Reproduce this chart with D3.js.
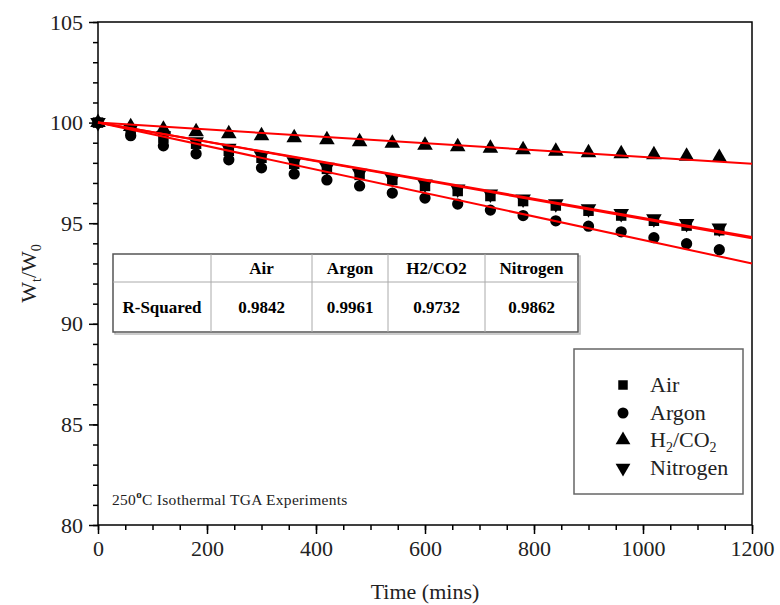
<!DOCTYPE html>
<html>
<head>
<meta charset="utf-8">
<script src="https://cdn.jsdelivr.net/npm/d3@7"></script>
<style>
  body { margin: 0; background: #fff; }
  svg text { font-family: "Liberation Serif", "Times New Roman", serif; }
</style>
</head>
<body>
<div id="container"></div>
<script>
/* data */
var times = [0, 60, 120, 180, 240, 300, 360, 420, 480, 540, 600, 660, 720, 780, 840, 900, 960, 1020, 1080, 1140];
var air = [100, 99.6, 99.25, 98.95, 98.6, 98.25, 97.95, 97.7, 97.4, 97.15, 96.85, 96.6, 96.35, 96.1, 95.88, 95.62, 95.38, 95.12, 94.88, 94.65];
var argon = [100, 99.35, 98.85, 98.45, 98.15, 97.75, 97.45, 97.15, 96.85, 96.5, 96.25, 95.95, 95.65, 95.38, 95.12, 94.85, 94.57, 94.28, 93.98, 93.68];
var h2co2 = [100, 99.8, 99.67, 99.55, 99.45, 99.35, 99.25, 99.15, 99.05, 98.97, 98.88, 98.8, 98.72, 98.65, 98.58, 98.5, 98.45, 98.4, 98.33, 98.27];
var nitrogen = [100, 99.7, 99.35, 99.05, 98.72, 98.35, 98.05, 97.78, 97.48, 97.22, 96.95, 96.7, 96.45, 96.2, 95.97, 95.72, 95.48, 95.22, 94.98, 94.76];

var seriesNames = ["Air", "Argon", "H2/CO2", "Nitrogen"];
var fitTimes = [0, 1200];
var fitAir = [100, 94.25];
var fitArgon = [100, 93.0];
var fitH2co2 = [100, 97.95];
var fitNitrogen = [100, 94.32];
var rSquared = ["0.9842", "0.9961", "0.9732", "0.9862"];

var xTicks = [0, 200, 400, 600, 800, 1000, 1200];
var yTicks = [80, 85, 90, 95, 100, 105];

var serif = "'Liberation Serif', 'Times New Roman', serif";

/* dimensions */
var margin = { top: 22, bottom: 80, left: 98, right: 28 },
    width = 780 - margin.left - margin.right,
    height = 605 - margin.top - margin.bottom;

var svg = d3.select("#container")
            .append("svg")
            .attr("width", 780)
            .attr("height", 605)
            .style("font-family", serif)

var g = svg.append("g")
           .attr("transform", "translate(" + margin.left + "," + margin.top + ")")

var x = d3.scaleLinear().domain([0, 1200]).range([0, width])
var y = d3.scaleLinear().domain([80, 105]).range([height, 0])

/* minor ticks */
g.append("g")
  .attr("transform", "translate(0," + height + ")")
  .call(d3.axisBottom(x).tickValues(d3.range(0, 1201, 50)).tickSize(5).tickFormat(""))
g.append("g")
  .call(d3.axisLeft(y).tickValues(d3.range(80, 106, 1)).tickSize(5).tickFormat(""))

/* major ticks */
g.append("g")
  .attr("class", "x axis")
  .attr("transform", "translate(0," + height + ")")
  .call(d3.axisBottom(x).tickValues(xTicks).tickSize(9).tickPadding(6).tickFormat(d3.format("d")))
g.append("g")
  .attr("class", "y axis")
  .call(d3.axisLeft(y).tickValues(yTicks).tickSize(9).tickPadding(6).tickFormat(d3.format("d")))

g.selectAll(".domain").remove()
g.selectAll(".tick line").attr("stroke", "#000").attr("stroke-width", 1.5)
g.selectAll(".axis").attr("font-family", serif).attr("font-size", 22)
g.selectAll(".axis text").attr("fill", "#222")

/* frame */
g.append("rect")
  .attr("width", width)
  .attr("height", height)
  .attr("fill", "none")
  .attr("stroke", "#000")
  .attr("stroke-width", 1.5)

/* axis titles */
svg.append("text")
  .attr("x", margin.left + width / 2)
  .attr("y", 599)
  .attr("text-anchor", "middle")
  .style("font-size", "22px")
  .attr("fill", "#222")
  .text("Time (mins)")

var yl = svg.append("text")
  .attr("transform", "translate(36," + (margin.top + height / 2) + ") rotate(-90)")
  .attr("text-anchor", "middle")
  .style("font-size", "22px")
  .attr("fill", "#222")
yl.append("tspan").text("W")
yl.append("tspan").attr("dy", 5).style("font-size", "14px").text("t")
yl.append("tspan").attr("dy", -5).text("/W")
yl.append("tspan").attr("dy", 5).style("font-size", "14px").text("0")

/* markers */
var sym = {
  "Air": d3.symbol().type(d3.symbolSquare).size(110),
  "Argon": d3.symbol().type(d3.symbolCircle).size(100),
  "H2/CO2": d3.symbol().type(d3.symbolTriangle).size(105),
  "Nitrogen": d3.symbol().type(d3.symbolTriangle).size(105)
}
var rot = { "Air": 0, "Argon": 0, "H2/CO2": 0, "Nitrogen": 180 }

var series = [
  { name: "Air", values: air, fit: fitAir },
  { name: "Argon", values: argon, fit: fitArgon },
  { name: "H2/CO2", values: h2co2, fit: fitH2co2 },
  { name: "Nitrogen", values: nitrogen, fit: fitNitrogen }
]

series.forEach(function(s) {
  g.selectAll(".pt-" + s.name.replace("/", ""))
    .data(s.values)
    .enter().append("path")
      .attr("d", sym[s.name]())
      .attr("transform", function(d, i) {
        return "translate(" + x(times[i]) + "," + y(d) + ") rotate(" + rot[s.name] + ")"
      })
      .attr("fill", "#000")
})

var line = d3.line()
  .x(function(d, i) { return x(fitTimes[i]) })
  .y(function(d) { return y(d) })

series.forEach(function(s) {
  g.append("path")
    .datum(s.fit)
    .attr("d", line)
    .attr("fill", "none")
    .attr("stroke", "#ff0000")
    .attr("stroke-width", 2)
})

/* r-squared table */
var colEdges = [113, 211, 312, 388, 485, 578]
var rowEdges = [254, 282, 332]
var tbl = svg.append("g")
tbl.append("rect")
  .attr("x", colEdges[0] + 2).attr("y", rowEdges[0] + 2)
  .attr("width", colEdges[5] - colEdges[0]).attr("height", rowEdges[2] - rowEdges[0])
  .attr("fill", "none").attr("stroke", "#bbb").attr("stroke-width", 1.5)
tbl.append("rect")
  .attr("x", colEdges[0]).attr("y", rowEdges[0])
  .attr("width", colEdges[5] - colEdges[0]).attr("height", rowEdges[2] - rowEdges[0])
  .attr("fill", "#fff").attr("stroke", "#555").attr("stroke-width", 1.5)
tbl.append("line")
  .attr("x1", colEdges[0]).attr("x2", colEdges[5])
  .attr("y1", rowEdges[1]).attr("y2", rowEdges[1])
  .attr("stroke", "#aaa").attr("stroke-width", 1)
for (var c = 1; c < 5; ++c) {
  tbl.append("line")
    .attr("x1", colEdges[c]).attr("x2", colEdges[c])
    .attr("y1", rowEdges[0]).attr("y2", rowEdges[2])
    .attr("stroke", "#aaa").attr("stroke-width", 1)
}
tbl.append("text")
  .attr("x", (colEdges[0] + colEdges[1]) / 2)
  .attr("y", 313)
  .attr("text-anchor", "middle")
  .style("font-size", "17px").style("font-weight", "bold")
  .text("R-Squared")
seriesNames.forEach(function(n, i) {
  var cx = (colEdges[i + 1] + colEdges[i + 2]) / 2
  tbl.append("text")
    .attr("x", cx).attr("y", 274)
    .attr("text-anchor", "middle")
    .style("font-size", "17px").style("font-weight", "bold")
    .text(n)
  tbl.append("text")
    .attr("x", cx).attr("y", 313)
    .attr("text-anchor", "middle")
    .style("font-size", "17px").style("font-weight", "bold")
    .text(rSquared[i])
})

/* legend */
var leg = svg.append("g")
leg.append("rect")
  .attr("x", 574).attr("y", 349)
  .attr("width", 169).attr("height", 145)
  .attr("fill", "#fff").attr("stroke", "#666").attr("stroke-width", 1.5)
var legRows = [385, 413, 440, 468]
series.forEach(function(s, i) {
  leg.append("path")
    .attr("d", d3.symbol().type(s.name === "Argon" ? d3.symbolCircle : (s.name === "Air" ? d3.symbolSquare : d3.symbolTriangle)).size(s.name === "Air" ? 90 : 95)())
    .attr("transform", "translate(623," + legRows[i] + ") rotate(" + rot[s.name] + ")")
    .attr("fill", "#000")
  var t = leg.append("text")
    .attr("x", 650).attr("y", legRows[i] + 7)
    .style("font-size", "22px")
    .attr("fill", "#222")
  if (s.name === "H2/CO2") {
    t.append("tspan").text("H")
    t.append("tspan").attr("dy", 5).style("font-size", "14px").text("2")
    t.append("tspan").attr("dy", -5).text("/CO")
    t.append("tspan").attr("dy", 5).style("font-size", "14px").text("2")
  } else {
    t.text(s.name)
  }
})

/* annotation */
var note = svg.append("text")
  .attr("x", 112).attr("y", 505)
  .style("font-size", "15.5px")
  .style("letter-spacing", "0.3px")
  .attr("fill", "#222")
note.append("tspan").text("250")
note.append("tspan").attr("dy", -7).style("font-size", "11px").style("font-weight", "bold").text("o")
note.append("tspan").attr("dy", 7).text("C Isothermal TGA Experiments")
</script>
</body>
</html>
